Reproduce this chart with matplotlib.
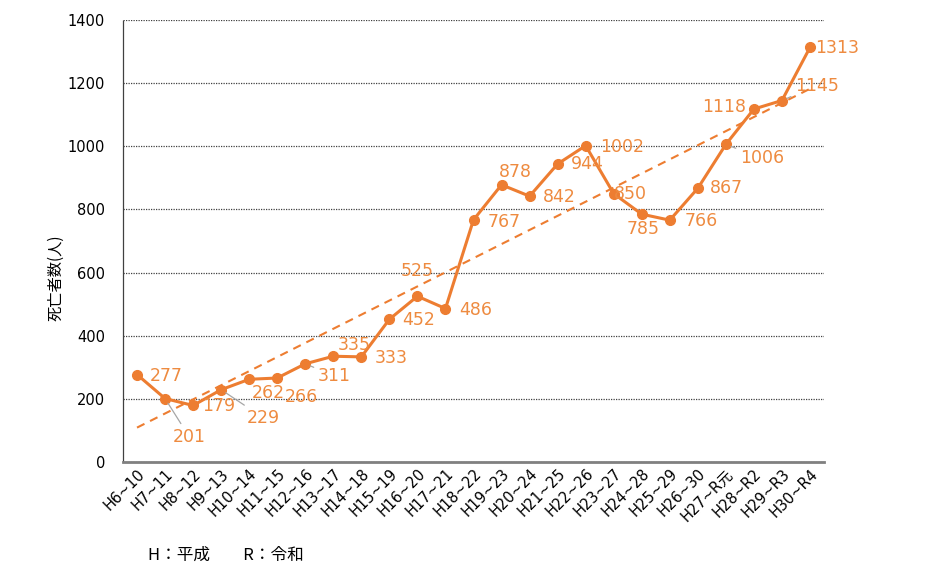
import matplotlib
matplotlib.use("Agg")
import matplotlib.pyplot as plt
import numpy as np

plt.rcParams['font.family'] = ['DejaVu Sans', 'Noto Sans CJK JP']

categories = ["H6~10", "H7~11", "H8~12", "H9~13", "H10~14", "H11~15", "H12~16", "H13~17",
              "H14~18", "H15~19", "H16~20", "H17~21", "H18~22", "H19~23", "H20~24", "H21~25",
              "H22~26", "H23~27", "H24~28", "H25~29", "H26~30", "H27~R元", "H28~R2", "H29~R3", "H30~R4"]
deaths = [277, 201, 179, 229, 262, 266, 311, 335, 333, 452, 525, 486, 767, 878, 842, 944,
          1002, 850, 785, 766, 867, 1006, 1118, 1145, 1313]

# label offsets in pixels (dx, dy) relative to the point, and whether a leader line is drawn
offsets = [(29, -1), (24, -38), (26, -1), (42, -28), (19, -14), (24, -19), (29, -12), (21, 11),
           (30, -1), (29, -1), (0, 25), (30, -1), (31, -2), (14, 13), (30, -1), (30, 0),
           (36, -1), (17, 0), (1, -15), (31, -1), (29, 0), (36, -14), (-30, 2), (35, 15), (27, -1)]
leaders = {1, 3, 6, 21, 23}

color = '#ED7D31'
label_color = '#EE8B40'

fig = plt.figure(figsize=(9.36, 5.68), dpi=100)
ax = fig.add_axes([123/936, 1-462/568, (824-123)/936, (462-20)/568])

x = np.arange(len(categories))
coef = np.polyfit(x, deaths, 1)
ax.plot(x, np.polyval(coef, x), linestyle=(0, (4, 3)), color=color, lw=1.5, zorder=2)
ax.plot(x, deaths, color=color, lw=2.2, marker='o', markersize=7, zorder=3)

for i, (v, (dx, dy)) in enumerate(zip(deaths, offsets)):
    if i in leaders:
        ax.annotate(str(v), xy=(i, v), xytext=(dx, dy), textcoords='offset pixels',
                    ha='center', va='center', fontsize=12.5, color=label_color,
                    arrowprops=dict(arrowstyle='-', color='#A6A6A6', lw=0.9,
                                    shrinkA=1, shrinkB=4), zorder=4)
    else:
        ax.annotate(str(v), xy=(i, v), xytext=(dx, dy), textcoords='offset pixels',
                    ha='center', va='center', fontsize=12.5, color=label_color, zorder=4)

ax.set_xlim(-0.5, len(categories) - 0.5)
ax.set_ylim(0, 1400)
ax.set_yticks(np.arange(0, 1401, 200))
ax.set_xticks(x)
ax.set_xticklabels(categories, rotation=45, ha='right', rotation_mode='anchor', fontsize=10.5)
ax.tick_params(axis='y', labelsize=10.5, length=0, pad=13)
ax.tick_params(axis='x', length=0, pad=3)
ax.grid(axis='y', linestyle=(0, (1, 1)), color='#404040', lw=0.9)
ax.set_axisbelow(True)
for s in ['top', 'right']:
    ax.spines[s].set_visible(False)
ax.spines['left'].set_linestyle((0, (1, 1)))
ax.spines['left'].set_color('#404040')
ax.spines['left'].set_linewidth(0.9)
ax.spines['bottom'].set_color('#808080')
ax.spines['bottom'].set_linewidth(2)

fig.text(56/936, 1-278/568, '死亡者数(人)', fontsize=11, rotation=90, ha='center', va='center',
         family=['Noto Sans CJK JP', 'DejaVu Sans'])

fig.text(148/936, 1-555/568, 'H：平成　　R：令和', fontsize=12, va='center', ha='left',
         family=['Noto Sans CJK JP', 'DejaVu Sans'])

fig.savefig('out.png', dpi=100)
